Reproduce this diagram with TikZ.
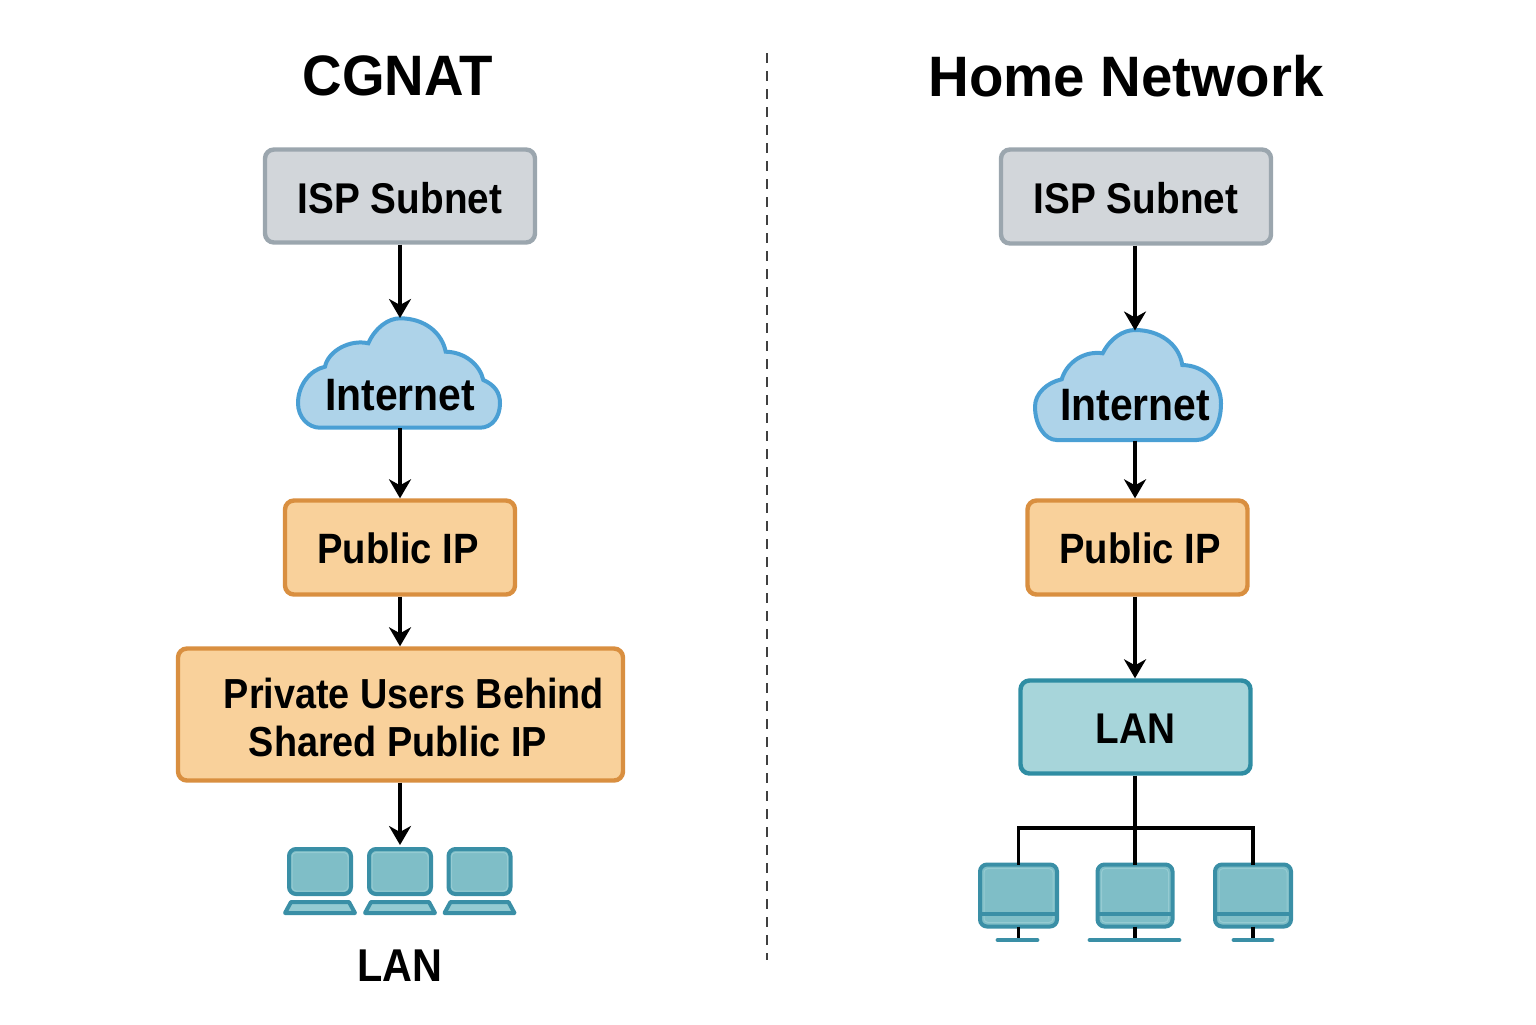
\documentclass[tikz,border=0pt]{standalone}
\usepackage{fontspec}
\setmainfont{Liberation Sans}
\newfontfamily\lblfont{Liberation Sans}[FakeStretch=0.9]
\newfontfamily\ttlfont{Liberation Sans}[FakeStretch=0.96]
\newfontfamily\ttlwide{Liberation Sans}[FakeStretch=0.99]
\usetikzlibrary{arrows.meta}
\definecolor{grayfill}{HTML}{D2D6DA}
\definecolor{graydraw}{HTML}{9BA6AE}
\definecolor{orfill}{HTML}{F9D19B}
\definecolor{ordraw}{HTML}{D98F40}
\definecolor{lanfill}{HTML}{A7D5DA}
\definecolor{landraw}{HTML}{2F8DA3}
\definecolor{cloudfill}{HTML}{AED3E9}
\definecolor{clouddraw}{HTML}{4A9FD4}
\definecolor{devfill}{HTML}{7FBEC7}
\definecolor{devdraw}{HTML}{3A8FA6}
\definecolor{devlight}{HTML}{95CBD2}
\tikzset{
  x=0.5pt,y=-0.5pt,
  lbl/.style={font=\lblfont\bfseries\fontsize{21.5}{24}\selectfont,text=black,inner sep=0pt,align=center},
  ttl/.style={font=\ttlfont\bfseries\fontsize{28.5}{32}\selectfont,text=black,inner sep=0pt},
  box/.style={rectangle,rounded corners=4.5pt,line width=2.2pt,inner sep=0pt,align=center,
    font=\lblfont\bfseries\fontsize{21.5}{24}\selectfont},
  graybox/.style={box,draw=graydraw,fill=grayfill,text height=17.6pt},
  orbox/.style={box,draw=ordraw,fill=orfill},
  lanbox/.style={box,draw=landraw,fill=lanfill,text height=16.6pt},
  cloudshape/.style={draw=clouddraw,fill=cloudfill,line width=2pt},
  anchorbox/.style={rectangle,inner sep=0pt,outer sep=0pt},
  flow/.style={draw=black,line width=1.8pt,-{Stealth[length=9.5pt,width=11pt,inset=3pt]}},
  link/.style={draw=black,line width=1.8pt},
  devscreen/.style={rectangle,draw=devdraw,fill=devfill,line width=2pt,rounded corners=3.5pt,inner sep=0pt,outer sep=0pt},
  devinner/.style={draw=devlight,line width=0.5pt,rounded corners=2pt},
  devbase/.style={draw=devdraw,line width=2.4pt,line cap=round},
}
\newcommand{\laptop}[2]{%
  \node[devscreen,minimum width=31pt,minimum height=22.5pt] (#1) at (#2,871.5) {};
  \draw[devinner] (#2-28,852.5) rectangle (#2+28,891);
  \draw[draw=devdraw,fill=devlight,line width=2pt,line join=round]
    (#2-29,902) -- (#2+29,902) -- (#2+35,913) -- (#2-35,913) -- cycle;
}
\newcommand{\monitor}[5]{%
  \node[devscreen,minimum width=#3pt,minimum height=31pt] (#1) at (#2,895.5) {};
  \draw[devinner] (#2-#3+4,868.5) rectangle (#2+#3-4,922.5);
  \draw[draw=devdraw,line width=2pt] (#2-#3,914) -- (#2+#3,914);
  \draw[link] (#1.south) -- (#2,938);
  \draw[devbase] (#4,940) -- (#5,940);
}
\begin{document}
\begin{tikzpicture}
\useasboundingbox (0,0) rectangle (1536,1024);

\node[ttl] (t1) at (398,76) {CGNAT};
\node[ttl,font=\ttlwide\bfseries\fontsize{28.5}{32}\selectfont] (t2) at (1126,76) {Home Network};
\coordinate (divtop) at (767,53);
\coordinate (divbot) at (767,960);
\draw[black!75,line width=0.6pt,dash pattern=on 5pt off 4pt] (divtop) -- (divbot);

% Left column
\node[graybox,minimum width=135pt,minimum height=46.5pt] (ispL) at (400,196) {ISP Subnet};
\node[anchorbox,minimum width=101pt,minimum height=55pt] (cloudL) at (400,373) {};
\begin{scope}[shift={(cloudL.center)}]
\path[cloudshape] (-80,54.7)
  .. controls (-92,54.7) and (-102,44) .. (-102,30.3)
  .. controls (-102,12) and (-90,-3) .. (-75,-6.3)
  .. controls (-72,-22) and (-50,-34) .. (-31.7,-29.7)
  .. controls (-25,-45) and (-12,-54.7) .. (0,-54.7)
  .. controls (25,-54.7) and (42,-40) .. (45.7,-21.3)
  .. controls (65,-21) and (80,-8) .. (83.3,7)
  .. controls (95,12) and (100,20) .. (100,30.3)
  .. controls (100,44) and (92,54.7) .. (80,54.7) -- cycle;
\end{scope}
\node[lbl,font=\lblfont\bfseries\fontsize{22.7}{25}\selectfont] (inetL) at (400,395) {Internet};
\node[orbox,minimum width=115pt,minimum height=47pt,text height=16.4pt,font=\lblfont\bfseries\fontsize{21.2}{24}\selectfont] (pubL) at (400,547.5) {\hspace*{-2pt}Public IP};
\node[orbox,minimum width=222.5pt,minimum height=66pt,font=\lblfont\bfseries\fontsize{21}{24}\selectfont] (priv) at (400.5,714.5)
  {\rule{0pt}{18.2pt}\hspace*{13.5pt}Private Users Behind\\Shared Public IP\hspace*{2.5pt}};
\laptop{lapA}{320}
\laptop{lapB}{400}
\laptop{lapC}{479.5}
\node[lbl] (lanL) at (400,966) {\fontsize{23}{26}\selectfont LAN};

\draw[flow] (ispL.south) -- (cloudL.north);
\draw[flow] (cloudL.south) -- (pubL.north);
\draw[flow] (pubL.south) -- (pubL.south |- priv.north);
\draw[flow,shorten >=2pt] (pubL.south |- priv.south) -- (lapB.north);

% Right column
\node[graybox,minimum width=135pt,minimum height=47pt] (ispR) at (1136,196.5) {ISP Subnet};
\node[anchorbox,minimum width=93pt,minimum height=55pt] (cloudR) at (1135,385.5) {};
\begin{scope}[shift={(cloudR.center)}]
\path[cloudshape] (-78.3,54.5)
  .. controls (-90,54.5) and (-100,40) .. (-100,21)
  .. controls (-100,8) and (-88,-3) .. (-73.3,-6.2)
  .. controls (-68,-24) and (-50,-35) .. (-32.3,-32.2)
  .. controls (-25,-47) and (-12,-55.5) .. (0,-55.5)
  .. controls (24,-55.5) and (44,-42) .. (47.3,-20.5)
  .. controls (70,-20) and (86,-3) .. (86,18)
  .. controls (86,40) and (76,54.5) .. (61.7,54.5) -- cycle;
\end{scope}
\node[lbl,font=\lblfont\bfseries\fontsize{22.7}{25}\selectfont] (inetR) at (1135,405) {Internet};
\node[orbox,minimum width=110pt,minimum height=47pt,text height=16.4pt,font=\lblfont\bfseries\fontsize{21.2}{24}\selectfont] (pubR) at (1137.5,547.5) {\hspace*{2.5pt}Public IP};
\node[lanbox,minimum width=115pt,minimum height=46.5pt] (lanR) at (1135.5,727) {LAN};
\monitor{monA}{1018.5}{38.5}{998}{1037}
\monitor{monB}{1135}{37.5}{1090}{1179}
\monitor{monC}{1253}{38}{1234}{1272}

\draw[flow] (ispR.south -| cloudR.north) -- (cloudR.north);
\draw[flow] (cloudR.south) -- (cloudR.south |- pubR.north);
\draw[flow] (cloudR.south |- pubR.south) -- (cloudR.south |- lanR.north);
\coordinate (bus) at (1135,828);
\draw[link] (lanR.south -| monB.north) -- (monB.north);
\draw[link] (monA.north) |- (bus) -| (monC.north);
\end{tikzpicture}
\end{document}
